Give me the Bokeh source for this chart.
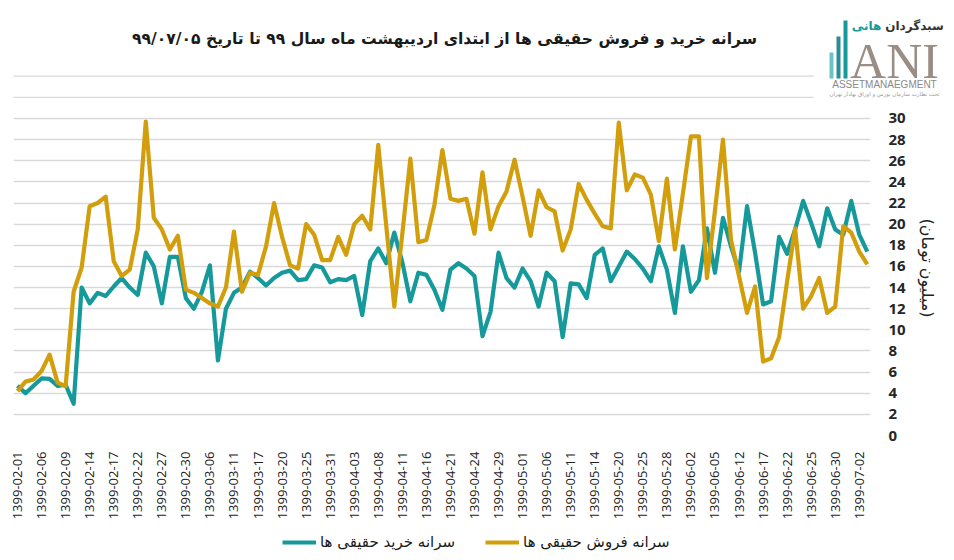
import math
from bokeh.plotting import figure
from bokeh.layouts import column
from bokeh.models import Range1d, FixedTicker, Legend, LegendItem, Label, BoxAnnotation
from bokeh.embed import file_html
from bokeh.resources import INLINE

title_text = "سرانه خرید و فروش حقیقی ها از ابتدای اردیبهشت ماه سال ۹۹ تا تاریخ ۹۹/۰۷/۰۵"
buy_name = "سرانه خرید حقیقی ها"
sell_name = "سرانه فروش حقیقی ها"
y_title = "(میلیون تومان)"

tick_labels = [
    "1399-02-01", "1399-02-06", "1399-02-09", "1399-02-14", "1399-02-17", "1399-02-22",
    "1399-02-27", "1399-02-30", "1399-03-06", "1399-03-11", "1399-03-17", "1399-03-20",
    "1399-03-25", "1399-03-31", "1399-04-03", "1399-04-08", "1399-04-11", "1399-04-16",
    "1399-04-21", "1399-04-24", "1399-04-29", "1399-05-01", "1399-05-06", "1399-05-11",
    "1399-05-14", "1399-05-20", "1399-05-25", "1399-05-28", "1399-06-02", "1399-06-05",
    "1399-06-12", "1399-06-17", "1399-06-22", "1399-06-25", "1399-06-30", "1399-07-02",
]

buy = [
    4.7, 4.0, 4.7, 5.4, 5.35, 4.7, 4.8, 3.0, 14.0, 12.5,
    13.5, 13.2, 14.1, 14.9, 14.0, 13.3, 17.3, 16.0, 12.5, 16.9,
    16.9, 13.0, 12.0, 13.6, 16.1, 7.1, 12.0, 13.5, 14.0, 15.5,
    14.9, 14.2, 14.9, 15.4, 15.6, 14.7, 14.8, 16.1, 15.9, 14.5,
    14.8, 14.7, 15.1, 11.4, 16.5, 17.7, 16.3, 19.2, 16.4, 12.7,
    15.4, 15.2, 13.8, 11.9, 15.7, 16.3, 15.8, 15.1, 9.4, 11.7,
    17.3, 14.9, 14.0, 15.8, 14.6, 12.2, 15.4, 14.6, 9.3, 14.4,
    14.3, 13.0, 17.1, 17.7, 14.6, 16.0, 17.4, 16.7, 15.8, 14.6,
    17.9, 15.7, 11.6, 17.9, 13.6, 14.7, 19.6, 15.4, 20.6, 17.9,
    15.5, 21.7, 17.3, 12.4, 12.7, 18.8, 17.2, 19.5, 22.2, 20.1,
    17.9, 21.5, 19.5, 19.0, 22.2, 19.0, 17.4,
]

sell = [
    4.2, 5.1, 5.3, 6.1, 7.65, 5.0, 4.66, 13.6, 15.9, 21.7,
    22.0, 22.6, 16.5, 15.1, 15.7, 19.5, 29.7, 20.6, 19.5, 17.6,
    18.9, 13.8, 13.5, 13.0, 12.5, 12.2, 14.0, 19.3, 13.6, 15.4,
    15.2, 17.9, 22.0, 18.8, 16.1, 15.8, 20.0, 19.0, 16.6, 16.6,
    18.8, 17.1, 20.0, 20.8, 19.5, 27.5, 19.8, 12.2, 19.1, 26.2,
    18.3, 18.5, 21.8, 27.0, 22.4, 22.2, 22.4, 19.1, 24.9, 19.5,
    21.7, 23.1, 26.1, 22.6, 18.9, 23.2, 21.6, 21.2, 17.5, 19.5,
    23.8, 22.3, 21.0, 19.8, 19.6, 29.6, 23.2, 24.7, 24.4, 22.8,
    18.4, 24.3, 17.6, 22.9, 28.3, 28.3, 14.9, 21.3, 28.0, 18.5,
    15.1, 11.6, 14.1, 7.0, 7.3, 9.3, 14.6, 19.6, 12.0, 13.2,
    14.9, 11.6, 12.2, 19.8, 19.2, 17.4, 16.2,
]

y_ticks = list(range(0, 35, 2))
y_labelled_max = 30

TEAL = "#16999a"
GOLD = "#d29e0c"
GRID = "#d9d9d9"
ARABIC_FONT = "DejaVu Sans"

# ---- geometry (pixels) ----
W = 950
HEADER_H = 100
FRAME_L, FRAME_R = 13, 870
PLOT_H = 335            # frame height of the main plot
BOTTOM_H = 91           # x labels
LEGEND_H = 30
X0, X1 = -0.5, len(buy) - 0.6
Y1 = 31.7
ppx = (FRAME_R - FRAME_L) / (X1 - X0)
ppy = PLOT_H / Y1

x = list(range(len(buy)))
tick_pos = [i * 3 for i in range(len(tick_labels))]

# ---------------- main plot ----------------
p = figure(width=W, height=PLOT_H + BOTTOM_H, output_backend="svg", toolbar_location=None,
           x_range=Range1d(X0, X1), y_range=Range1d(0, Y1),
           y_axis_location="right", frame_align=False,
           min_border_left=FRAME_L, min_border_right=W - FRAME_R,
           min_border_top=0, min_border_bottom=BOTTOM_H)
p.background_fill_color = "white"
p.border_fill_color = "white"
p.outline_line_color = None

r1 = p.line(x, buy, line_color=TEAL, line_width=4.2, line_join="round")
r2 = p.line(x, sell, line_color=GOLD, line_width=4.2, line_join="round")

p.xaxis.ticker = FixedTicker(ticks=tick_pos)
p.xaxis.major_label_overrides = {t: lab for t, lab in zip(tick_pos, tick_labels)}
p.xaxis.major_label_orientation = math.pi / 2
p.xaxis.major_label_text_font = "Open Sans"
p.xaxis.major_label_text_font_size = "13px"
p.xaxis.major_label_text_color = "#222222"
p.xaxis.major_label_standoff = 10
p.xaxis.axis_line_color = None
p.xaxis.major_tick_line_color = None
p.xaxis.minor_tick_line_color = None

p.yaxis.ticker = FixedTicker(ticks=y_ticks)
p.yaxis.major_label_overrides = {t: ("" if t > y_labelled_max else str(t)) for t in y_ticks}
p.yaxis.major_label_text_font = "Open Sans"
p.yaxis.major_label_text_font_style = "bold"
p.yaxis.major_label_text_font_size = "15px"
p.yaxis.major_label_text_color = "#262626"
p.yaxis.major_label_standoff = 12
p.yaxis.axis_line_color = None
p.yaxis.major_tick_line_color = None
p.yaxis.minor_tick_line_color = None
p.yaxis.axis_label = y_title
p.yaxis.axis_label_text_font = ARABIC_FONT
p.yaxis.axis_label_text_font_style = "normal"
p.yaxis.axis_label_text_font_size = "16px"
p.yaxis.axis_label_text_color = "#222222"
p.yaxis.axis_label_standoff = 9

p.xgrid.visible = False
p.ygrid.grid_line_color = GRID
p.ygrid.grid_line_width = 1.3

# ---------------- header: title, top grid lines, logo ----------------
hx0 = X0 - FRAME_L / ppx
hx1 = hx0 + W / ppx
h = figure(width=W, height=HEADER_H, output_backend="svg", toolbar_location=None,
           x_range=Range1d(hx0, hx1), y_range=Range1d(Y1, Y1 + HEADER_H / ppy),
           x_axis_type=None, y_axis_type=None, frame_align=False,
           min_border_left=0, min_border_right=0, min_border_top=0, min_border_bottom=0)
h.grid.visible = False
h.outline_line_color = None
h.background_fill_color = "white"
h.border_fill_color = "white"

upper = [t for t in y_ticks if t > Y1]
h.segment(x0=[X0] * len(upper), y0=upper, x1=[99.3] * len(upper), y1=upper,
          line_color=GRID, line_width=1.3)

h.add_layout(Label(x=444, y=HEADER_H - 38, x_units="screen", y_units="screen",
                   text=title_text, text_align="center", text_baseline="middle",
                   text_font=ARABIC_FONT, text_font_size="15.6px",
                   text_font_style="bold", text_color="#1a1a1a"))

def sbox(l, r, top, bottom, c):
    h.add_layout(BoxAnnotation(left=l, right=r, top=HEADER_H - top, bottom=HEADER_H - bottom,
                               left_units="screen", right_units="screen",
                               top_units="screen", bottom_units="screen",
                               fill_color=c, fill_alpha=1, line_alpha=0))

sbox(829, 833, 52, 78, "#6cc3c6")
sbox(836, 840, 36, 78, "#2b8c96")
sbox(843, 847, 20, 78, "#16999a")

def slab(xp, yp, text, font, size, color, align="left", style="normal"):
    h.add_layout(Label(x=xp, y=HEADER_H - yp, x_units="screen", y_units="screen", text=text,
                       text_align=align, text_baseline="middle", text_font=font,
                       text_font_size=size, text_color=color, text_font_style=style))

slab(894, 60, "ANI", "Liberation Serif", "50px", "#9a8e84", align="center")
slab(884, 84, "ASSETMANAEGMENT", "Liberation Sans", "10px", "#8a8a8a", align="center")
slab(884, 93, "تحت نظارت سازمان بورس و اوراق بهادار تهران", ARABIC_FONT, "5.5px", "#9a9a9a",
     align="center")
slab(914, 25, "سبدگردان", ARABIC_FONT, "12px", "#333333", align="center", style="bold")
slab(866, 25, "هانی", ARABIC_FONT, "12px", "#16999a", align="center", style="bold")

# ---------------- legend strip ----------------
lg = figure(width=W, height=LEGEND_H, output_backend="svg", toolbar_location=None,
            x_range=Range1d(0, 1), y_range=Range1d(0, 1),
            x_axis_type=None, y_axis_type=None, frame_align=False,
            min_border_left=0, min_border_right=0, min_border_top=0, min_border_bottom=0)
lg.grid.visible = False
lg.outline_line_color = None
lg.background_fill_color = "white"
lg.border_fill_color = "white"
# legend key renderers, kept outside the strip's visible range
l1 = lg.line(x=[-3, -2], y=[-3, -2], line_color=TEAL, line_width=4.2)
l2 = lg.line(x=[-3, -2], y=[-3, -2], line_color=GOLD, line_width=4.2)
legend = Legend(items=[LegendItem(label=buy_name, renderers=[l1]),
                       LegendItem(label=sell_name, renderers=[l2])],
                orientation="horizontal", location=(278, 0),
                label_text_font=ARABIC_FONT, label_text_font_size="15px",
                label_text_color="#1a1a1a",
                glyph_width=34, glyph_height=20, label_standoff=4, spacing=30,
                padding=4, margin=0,
                border_line_alpha=0, background_fill_alpha=0)
lg.add_layout(legend, "center")

layout = column(h, p, lg, spacing=0)
open("out.html", "w").write(file_html(layout, INLINE))
